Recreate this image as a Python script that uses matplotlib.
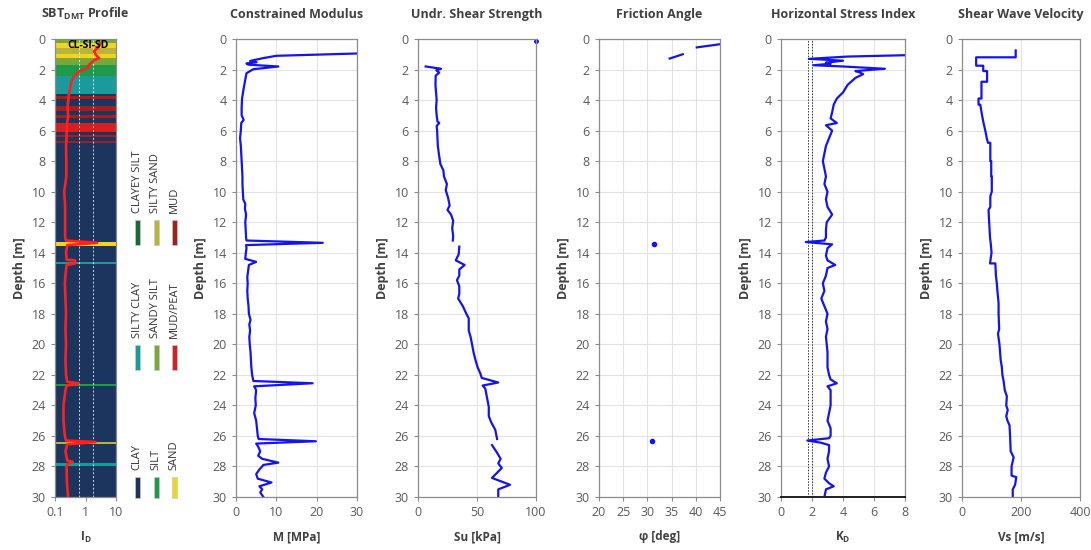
import numpy as np
import matplotlib
matplotlib.use("Agg")
import matplotlib.pyplot as plt
from matplotlib.patches import Rectangle

plt.rcParams["font.family"] = ["Open Sans", "DejaVu Sans"]

# ---- SBT profile -----------------------------------------------------------
SBT_COLORS = {
    "CLAY": "#1c355e", "SILT": "#1f9a4a", "SAND": "#f2d41e",
    "SILTY CLAY": "#1a9b9b", "SANDY SILT": "#78a83c", "MUD/PEAT": "#d62020",
    "CLAYEY SILT": "#17693a", "SILTY SAND": "#b8b43a", "MUD": "#a81c1c",
}
BAND_TOP = [0.0, 0.25, 0.6, 0.95, 1.25, 1.7, 2.4, 3.6,
            3.75, 4.4, 4.95, 5.5, 6.3, 6.65,
            13.3, 14.6, 22.6, 26.4, 27.8]
BAND_BOTTOM = [0.25, 0.6, 0.95, 1.25, 1.7, 2.4, 3.6, 30.0,
               3.95, 4.7, 5.15, 6.1, 6.45, 6.8,
               13.55, 14.72, 22.75, 26.55, 27.95]
BAND_TYPE = ["SANDY SILT", "SAND", "SILTY SAND", "SAND", "SANDY SILT", "SILT",
             "SILTY CLAY", "CLAY",
             "MUD", "MUD", "MUD", "MUD/PEAT", "MUD", "MUD",
             "SAND", "SILTY CLAY", "SILT", "SILTY SAND", "SILTY CLAY"]

ID_DEPTH = [0.3, 0.6, 0.8, 1.05, 1.25, 1.4, 1.7, 1.9, 2.1, 2.35, 2.7, 3.1, 3.75,
            4.4, 5.1, 5.5, 6.0, 7.0, 8.0, 9.0, 10.0, 11.0, 12.0, 13.0, 13.2,
            13.35, 13.5, 14.0, 14.45, 14.5, 14.7, 14.8, 15.5, 16.0, 17.0, 18.0,
            19.0, 20.0, 21.0, 22.0, 22.45, 22.55, 22.7, 23.0, 24.0, 25.0, 26.0,
            26.3, 26.4, 26.55, 27.0, 27.6, 27.7, 27.85, 28.0, 29.0, 30.0]
ID_VALUE = [3.0, 2.5, 1.9, 2.2, 2.8, 1.9, 1.3, 1.15, 0.68, 0.46, 0.36, 0.32, 0.28,
            0.26, 0.27, 0.25, 0.245, 0.23, 0.235, 0.235, 0.2, 0.215, 0.215, 0.215, 0.23,
            2.4, 0.25, 0.23, 0.24, 0.45, 0.45, 0.24, 0.22, 0.21, 0.22, 0.23,
            0.22, 0.23, 0.22, 0.23, 0.25, 0.6, 0.24, 0.22, 0.19, 0.19, 0.21,
            0.23, 2.1, 0.25, 0.22, 0.25, 0.38, 0.26, 0.24, 0.245, 0.27]
ID_LIMITS = [0.6, 1.8]

LEGEND_GROUPS = [["CLAYEY SILT", "SILTY SAND", "MUD"],
                 ["SILTY CLAY", "SANDY SILT", "MUD/PEAT"],
                 ["CLAY", "SILT", "SAND"]]

# ---- Constrained modulus ---------------------------------------------------
M_DEPTH = [0.95, 1.1, 1.25, 1.38, 1.44, 1.52, 1.6, 1.68, 1.8, 1.98, 2.24, 2.8,
           3.4, 3.9, 4.5, 5.0, 5.3, 5.5, 6.0, 6.5, 7.0, 7.5, 8.0, 8.5, 9.0, 9.5,
           10.0, 10.5, 10.8, 11.1, 11.5, 12.0, 12.5, 13.0, 13.2, 13.35, 13.5,
           13.7, 14.1, 14.4, 14.6, 14.8, 15.2, 15.6, 16.0, 16.5, 17.0, 17.5,
           18.0, 18.4, 18.7, 19.1, 19.5, 20.0, 20.5, 21.0, 21.5, 22.0, 22.4,
           22.55, 22.75, 23.0, 23.5, 24.0, 24.5, 25.0, 25.5, 26.0, 26.2, 26.35,
           26.5, 26.7, 27.0, 27.3, 27.5, 27.75, 27.9, 28.2, 28.5, 28.8, 29.05,
           29.3, 29.5, 29.7, 30.0]
M_VALUE = [30, 10, 6.8, 4.5, 3.5, 5.1, 2.6, 3.0, 10.5, 4.3, 2.6, 2.2,
           1.8, 1.5, 1.4, 1.4, 1.9, 1.3, 1.2, 1.0, 1.2, 1.3, 1.4, 1.5, 1.6, 1.6,
           1.7, 1.8, 2.3, 2.2, 2.5, 2.3, 2.4, 2.5, 2.6, 21.5, 2.5,
           2.6, 2.4, 2.3, 5.0, 3.2, 3.0, 2.8, 2.9, 2.8, 2.9, 3.1,
           3.2, 3.6, 3.3, 3.5, 3.3, 3.4, 3.6, 3.7, 3.8, 4.0, 4.3,
           19.0, 4.5, 5.0, 4.8, 4.9, 4.5, 5.0, 5.2, 5.4, 5.6, 19.8,
           5.0, 5.5, 6.0, 5.5, 6.5, 10.5, 6.8, 5.8, 5.0, 5.4, 8.8,
           5.8, 6.5, 6.0, 6.8]

# ---- Undrained shear strength (nan = gap) ----------------------------------
SU_DEPTH = [1.8, 1.95, 2.05, 2.2, 2.4, 3.0, 3.5, 4.0, 4.5, 5.0, 5.4, 5.5, 5.7,
            6.0, 7.0, 7.7, 8.2, 8.6, 9.0, 9.5, 9.9, 10.4, 10.9, 11.2, 11.5,
            11.9, 12.4, 12.9, 13.2, np.nan, 13.6, 14.1, 14.5, 14.8, 15.1, 15.5,
            15.8, 16.2, 16.7, 17.0, 17.5, 18.0, 18.3, 18.8, 19.1, 19.5, 20.0,
            20.5, 21.0, 21.5, 21.9, 22.2, 22.5, 22.7, 22.9, 23.5, 24.1, 24.7,
            25.1, 25.6, 26.2, np.nan, 26.6, 27.1, 27.5, 27.8, 28.1, 28.75,
            29.2, 29.5, 30.0]
SU_VALUE = [6.5, 19.5, 15.5, 18, 15, 14.8, 15.3, 15.8, 15.3, 15.8, 16.5, 18, 15.8,
            16.2, 16.8, 18, 19, 21.5, 22, 24.5, 23.5, 25.5, 26.8, 25, 28,
            29.8, 29, 29.8, 29.5, np.nan, 35, 34.5, 32, 39.5, 35, 35,
            33, 35, 35, 34, 38, 41, 43, 43, 43, 44.5, 45.8,
            47, 48.6, 50.5, 52.8, 54, 68, 54.8, 57, 58.5, 60, 60,
            62, 65.5, 67, np.nan, 62.7, 67, 70, 68, 71, 62.7,
            78, 68, 68]
SU_TOP_DEPTH = [0.1]
SU_TOP_VALUE = [100]

# ---- Friction angle --------------------------------------------------------
PHI_DEPTH = [1.28, 1.0, np.nan, 0.55, 0.32]
PHI_VALUE = [34.6, 37.3, np.nan, 40.2, 45.5]
PHI_DOT_DEPTH = [13.4, 26.35]
PHI_DOT_VALUE = [31.3, 31.0]

# ---- Horizontal stress index -----------------------------------------------
KD_DEPTH = [1.05, 1.15, 1.3, 1.42, 1.55, 1.62, 1.72, 1.8, 1.95, 2.1, 2.2, 2.3,
            2.55, 3.0, 3.5, 3.9, 4.3, 4.8, 5.2, 5.5, 5.65, 6.0, 6.5, 7.0, 7.5,
            8.0, 8.5, 9.0, 9.5, 10.0, 10.5, 11.0, 11.5, 12.0, 12.5, 13.0, 13.2,
            13.3, 13.45, 13.7, 14.2, 14.5, 14.8, 15.0, 15.5, 16.0, 16.5, 17.0,
            17.5, 18.0, 18.5, 19.0, 19.5, 20.0, 20.5, 21.0, 21.5, 22.0, 22.3,
            22.55, 22.75, 23.0, 23.5, 24.0, 24.5, 25.0, 25.5, 26.0, 26.15, 26.3,
            26.45, 26.6, 27.0, 27.5, 28.0, 28.4, 28.8, 29.1, 29.3, 29.5, 30.0]
KD_VALUE = [8.5, 4.3, 1.8, 4.0, 2.9, 3.2, 2.1, 4.0, 6.7, 4.8, 5.1, 5.3,
            4.8, 4.3, 4.0, 3.6, 3.4, 3.3, 3.2, 3.6, 2.9, 3.3, 3.1, 2.9, 2.8,
            2.7, 2.8, 2.9, 2.8, 3.0, 2.9, 3.0, 3.3, 2.95, 2.9, 2.9, 2.8,
            1.6, 3.3, 3.0, 2.9, 3.0, 3.5, 3.0, 2.9, 2.7, 2.8, 2.6,
            2.8, 3.0, 2.9, 3.0, 2.9, 2.95, 3.0, 3.0, 3.0, 3.1, 3.2,
            3.6, 3.0, 3.2, 3.2, 3.2, 3.1, 3.0, 3.2, 3.2, 3.1, 1.7,
            2.6, 3.1, 3.1, 3.0, 3.1, 2.9, 2.8, 3.1, 3.4, 2.9, 2.8]
KD_REF = [1.75, 2.0]

# ---- Shear wave velocity ---------------------------------------------------
VS_DEPTH = [0.75, 1.2, 1.2, 1.75, 1.75, 2.1, 2.1, 2.8, 2.8, 3.9, 3.9, 4.3, 4.3,
            5.0, 5.5, 6.0, 6.5, 6.8, 6.8, 8.0, 8.0, 9.0, 9.0, 10.0, 10.3, 11.0,
            11.2, 12.0, 13.0, 13.5, 14.0, 14.7, 14.7, 15.5, 16.0, 16.5, 17.3,
            18.0, 19.0, 19.3, 20.0, 21.0, 21.5, 22.0, 22.4, 23.0, 23.4, 24.0,
            24.3, 24.7, 25.0, 25.3, 26.0, 27.0, 27.4, 28.0, 28.6, 28.7, 29.2,
            29.5, 30.0]
VS_VALUE = [182, 182, 48, 48, 72, 72, 85, 85, 66, 66, 56, 56, 62,
            68, 73, 79, 84, 88, 96, 96, 99, 99, 101, 101, 96, 96,
            90, 92, 95, 98, 100, 95, 113, 115, 118, 120, 124,
            124, 126, 122, 127, 131, 135, 137, 141, 145, 152, 150,
            155, 150, 154, 161, 163, 165, 175, 168, 168, 184, 180,
            172, 172]

LINE_BLUE = "#1414f0"
GRID_C = "#e3e3e3"
SPINE_C = "#8c8c8c"
TICK_C = "#5a5a5a"

fig = plt.figure(figsize=(10.91, 5.5), dpi=100)

BOTTOM = 1 - 497 / 550
HEIGHT = (497 - 39) / 550
panels = [(55, 116), (236, 357), (418, 536), (599, 720), (781, 905), (962, 1080)]
axes = [fig.add_axes([l / 1091, BOTTOM, (r - l) / 1091, HEIGHT]) for l, r in panels]


def style(ax, title, xlabel):
    ax.set_ylim(30, 0)
    ax.set_yticks(np.arange(0, 31, 2))
    ax.grid(True, color=GRID_C, linewidth=0.8)
    ax.set_axisbelow(True)
    for s in ax.spines.values():
        s.set_color(SPINE_C)
        s.set_linewidth(0.9)
    ax.tick_params(colors=SPINE_C, labelcolor=TICK_C, labelsize=9, length=3, width=0.8)
    ax.set_title(title, fontsize=9, fontweight="bold", color="#404040", pad=15)
    ax.set_xlabel(xlabel, fontsize=8.5, fontweight="bold", color="#404040", labelpad=8)
    ax.set_ylabel("Depth [m]", fontsize=9, fontweight="bold", color="#404040", labelpad=4)


# SBT
ax = axes[0]
style(ax, r"SBT$_{\mathregular{DMT}}$ Profile", r"I$_{\mathregular{D}}$")
ax.set_xscale("log")
ax.set_xlim(0.1, 10)
ax.set_xticks([0.1, 1, 10])
ax.set_xticklabels(["0.1", "1", "10"])
ax.minorticks_off()
for top, bot, typ in zip(BAND_TOP, BAND_BOTTOM, BAND_TYPE):
    ax.axhspan(top, bot, color=SBT_COLORS[typ], linewidth=0, zorder=1)
for v in ID_LIMITS:
    ax.axvline(v, color="white", linestyle=(0, (2, 2)), linewidth=0.7, alpha=0.8, zorder=2)
ax.plot(ID_VALUE, ID_DEPTH, color="#ff2020", linewidth=1.9, zorder=3)
ax.text(0.55, 0.42, "CL-SI-SD", transform=ax.get_yaxis_transform(), ha="center", va="center",
        fontsize=7.5, fontweight="bold", color="black", zorder=4)

# legend groups
leg_x = [137, 156, 174]
text_bottom = [213, 338, 470]
bar_span = [(220, 245), (345, 370), (477, 498)]
for group, tb, (b0, b1) in zip(LEGEND_GROUPS, text_bottom, bar_span):
    for name, x in zip(group, leg_x):
        fig.text(x / 1091, 1 - tb / 550, name, rotation=90, ha="center", va="bottom",
                 fontsize=8, color="#333333")
        fig.patches.append(Rectangle(((x - 2.5) / 1091, 1 - b1 / 550), 5 / 1091, (b1 - b0) / 550,
                                     transform=fig.transFigure, facecolor=SBT_COLORS[name],
                                     edgecolor="#c8c8c8", linewidth=0.5))

# Constrained modulus
ax = axes[1]
style(ax, "Constrained Modulus", "M [MPa]")
ax.set_xlim(0, 30)
ax.set_xticks([0, 10, 20, 30])
ax.plot(M_VALUE, M_DEPTH, color=LINE_BLUE, linewidth=1.6)

# Su
ax = axes[2]
style(ax, "Undr. Shear Strength", "Su [kPa]")
ax.set_xlim(0, 100)
ax.set_xticks([0, 50, 100])
ax.plot(SU_VALUE, SU_DEPTH, color=LINE_BLUE, linewidth=1.6)
ax.plot(SU_TOP_VALUE, SU_TOP_DEPTH, "o", color=LINE_BLUE, markersize=2.5, clip_on=False)

# Friction angle
ax = axes[3]
style(ax, "Friction Angle", "φ [deg]")
ax.set_xlim(20, 45)
ax.set_xticks([20, 25, 30, 35, 40, 45])
ax.plot(PHI_VALUE, PHI_DEPTH, color=LINE_BLUE, linewidth=1.6)
ax.plot(PHI_DOT_VALUE, PHI_DOT_DEPTH, "o", color=LINE_BLUE, markersize=3)

# KD
ax = axes[4]
style(ax, "Horizontal Stress Index", r"K$_{\mathregular{D}}$")
ax.set_xlim(0, 8)
ax.set_xticks([0, 2, 4, 6, 8])
for v in KD_REF:
    ax.axvline(v, color="#333333", linestyle=(0, (1.5, 1.5)), linewidth=0.7)
ax.plot(KD_VALUE, KD_DEPTH, color=LINE_BLUE, linewidth=1.6)
ax.spines["bottom"].set_color("#202020")
ax.spines["bottom"].set_linewidth(1.4)

# Vs
ax = axes[5]
style(ax, "Shear Wave Velocity", "Vs [m/s]")
ax.set_xlim(0, 400)
ax.set_xticks([0, 200, 400])
ax.plot(VS_VALUE, VS_DEPTH, color=LINE_BLUE, linewidth=1.6)

fig.savefig("out.png", dpi=100)
